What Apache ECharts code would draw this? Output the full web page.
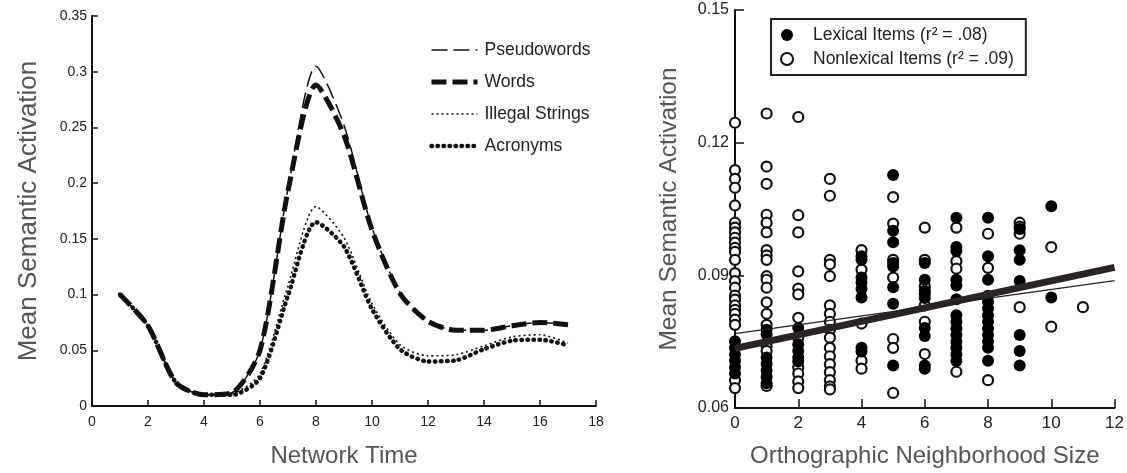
<!DOCTYPE html>
<html>
<head>
<meta charset="utf-8">
<script src="https://cdn.jsdelivr.net/npm/echarts@6/dist/echarts.min.js"></script>
<style>
  html, body { margin: 0; padding: 0; background: #fff; }
  #chart { width: 1127px; height: 473px; }
</style>
</head>
<body>
<div id="chart"></div>
<script>
// left panel: activation over network time
let time = [1, 2, 3, 4, 5, 6, 7, 8, 9, 10, 11, 12, 13, 14, 15, 16, 17];
let pseudowords = [0.1, 0.072, 0.021, 0.01, 0.012, 0.05, 0.195, 0.305, 0.252, 0.16, 0.102, 0.076, 0.068, 0.068, 0.072, 0.075, 0.073];
let words = [0.1, 0.072, 0.021, 0.01, 0.012, 0.05, 0.193, 0.288, 0.243, 0.158, 0.101, 0.076, 0.068, 0.068, 0.072, 0.075, 0.073];
let illegal = [0.1, 0.072, 0.021, 0.01, 0.011, 0.029, 0.108, 0.179, 0.151, 0.092, 0.055, 0.045, 0.046, 0.054, 0.062, 0.064, 0.0565];
let acronyms = [0.1, 0.072, 0.021, 0.01, 0.01, 0.025, 0.099, 0.165, 0.143, 0.087, 0.051, 0.04, 0.041, 0.051, 0.0586, 0.0595, 0.0545];

// right panel: activation by orthographic neighborhood size
let lexical = [
    [0, 0.0751], [0, 0.0736], [0, 0.0721], [0, 0.0707], [0, 0.0692], [0, 0.0678],
    [1, 0.0777], [1, 0.0766], [1, 0.0714], [1, 0.07], [1, 0.0685], [1, 0.067], [1, 0.0656],
    [2, 0.0781], [2, 0.0744], [2, 0.0729], [2, 0.0714], [2, 0.0705],
    [4, 0.0943], [4, 0.0935], [4, 0.0895], [4, 0.0884], [4, 0.0869], [4, 0.085], [4, 0.0736], [4, 0.0728],
    [5, 0.1127], [5, 0.1001], [5, 0.0975], [5, 0.0928], [5, 0.092], [5, 0.0873], [5, 0.0836], [5, 0.0696],
    [6, 0.0928], [6, 0.089], [6, 0.0865], [6, 0.0849], [6, 0.0781], [6, 0.0763], [6, 0.0696], [6, 0.0689],
    [7, 0.103], [7, 0.0964], [7, 0.0955], [7, 0.089], [7, 0.0877], [7, 0.0846], [7, 0.081], [7, 0.0795],
    [7, 0.078], [7, 0.0765], [7, 0.075], [7, 0.0736], [7, 0.0721], [7, 0.0706],
    [8, 0.103], [8, 0.0943], [8, 0.089], [8, 0.0854], [8, 0.084], [8, 0.0825], [8, 0.081], [8, 0.0795],
    [8, 0.078], [8, 0.0765], [8, 0.0751], [8, 0.0736], [8, 0.0707],
    [9, 0.1005], [9, 0.0957], [9, 0.0935], [9, 0.0887], [9, 0.0765], [9, 0.0729], [9, 0.0696],
    [10, 0.1056], [10, 0.085]
];
let nonlexical = [
    [0, 0.1245], [0, 0.1138], [0, 0.1118], [0, 0.1098], [0, 0.1058], [0, 0.1019], [0, 0.1008], [0, 0.0997],
    [0, 0.0985], [0, 0.0974], [0, 0.0962], [0, 0.0953], [0, 0.0935], [0, 0.0905], [0, 0.0887], [0, 0.0872],
    [0, 0.0854], [0, 0.0845], [0, 0.0832], [0, 0.0822], [0, 0.0813], [0, 0.08], [0, 0.0788], [0, 0.0663], [0, 0.0645],
    [1, 0.1266], [1, 0.1146], [1, 0.1107], [1, 0.1037], [1, 0.1019], [1, 0.0997], [1, 0.0957], [1, 0.0945],
    [1, 0.0935], [1, 0.0898], [1, 0.089], [1, 0.0872], [1, 0.0839], [1, 0.0813], [1, 0.0788], [1, 0.074], [1, 0.0729], [1, 0.065],
    [2, 0.1258], [2, 0.1036], [2, 0.0997], [2, 0.0909], [2, 0.087], [2, 0.0857], [2, 0.0804], [2, 0.0759],
    [2, 0.0692], [2, 0.0678], [2, 0.066], [2, 0.0645],
    [3, 0.1118], [3, 0.108], [3, 0.0935], [3, 0.0925], [3, 0.0898], [3, 0.0832], [3, 0.0813], [3, 0.0795],
    [3, 0.0777], [3, 0.0759], [3, 0.0736], [3, 0.0717], [3, 0.0699], [3, 0.0681], [3, 0.0663], [3, 0.0649], [3, 0.0642],
    [4, 0.0957], [4, 0.0913], [4, 0.0791], [4, 0.0707], [4, 0.0689],
    [5, 0.1077], [5, 0.1017], [5, 0.0935], [5, 0.0895], [5, 0.0756], [5, 0.0736], [5, 0.0634],
    [6, 0.1008], [6, 0.0935], [6, 0.0875], [6, 0.0858], [6, 0.0832], [6, 0.0795], [6, 0.0722],
    [7, 0.1008], [7, 0.0932], [7, 0.0915], [7, 0.0682],
    [8, 0.0994], [8, 0.0917], [8, 0.0663],
    [9, 0.1019], [9, 0.101], [9, 0.0994], [9, 0.0828],
    [10, 0.0964], [10, 0.0784],
    [11, 0.0828]
];
let fitThick = [[0, 0.0735], [12, 0.0918]];
let fitThin = [[0, 0.0768], [12, 0.0888]];

let leftTicks = ['0', '0.05', '0.1', '0.15', '0.2', '0.25', '0.3', '0.35'];
let rightTicks = ['0.06', '0.09', '0.12', '0.15'];

function pairs(ys) {
    return ys.map(function (v, i) { return [time[i], v]; });
}

let axisBase = {
    axisLine: { lineStyle: { color: '#111', width: 2 } },
    axisTick: { inside: true, length: 6, lineStyle: { color: '#111', width: 1.5 } },
    splitLine: { show: false },
    nameLocation: 'middle',
    nameTextStyle: { color: '#555', fontSize: 24, fontFamily: 'Liberation Sans, Arial' }
};

let MyChart = echarts.init(document.getElementById('chart'), null, { renderer: 'canvas' });

let option = {
    animation: false,
    backgroundColor: '#fff',
    textStyle: { fontFamily: 'Liberation Sans, Arial' },
    grid: [
        { left: 92, top: 16, width: 504, height: 398 },
        { left: 735, top: 10, width: 380, height: 405 }
    ],
    legend: [
        {
            data: ['Pseudowords', 'Words', 'Illegal Strings', 'Acronyms'],
            orient: 'vertical',
            left: 424,
            top: 36,
            itemWidth: 46,
            itemHeight: 12,
            itemGap: 14,
            itemStyle: { opacity: 0 },
            lineStyle: { width: 'inherit' },
            textStyle: { fontSize: 17.5, color: '#222', padding: [0, 0, 0, 2] }
        },
        {
            data: ['Lexical Items (r² = .08)', 'Nonlexical Items (r² = .09)'],
            orient: 'vertical',
            left: 771,
            top: 19,
            padding: [7, 12, 7, 9],
            itemGap: 6,
            itemWidth: 14,
            itemHeight: 12,
            borderColor: '#222',
            borderWidth: 2,
            borderRadius: 0,
            textStyle: { fontSize: 17.5, color: '#222', padding: [0, 0, 0, 14] }
        }
    ],
    xAxis: [
        Object.assign({}, axisBase, {
            gridIndex: 0, type: 'value', min: 0, max: 18, interval: 2,
            name: 'Network Time', nameGap: 38,
            axisLabel: { color: '#222', fontSize: 14, margin: 9 }
        }),
        Object.assign({}, axisBase, {
            gridIndex: 1, type: 'value', min: 0, max: 12, interval: 2,
            name: 'Orthographic Neighborhood Size', nameGap: 36,
            axisLabel: { color: '#222', fontSize: 17, margin: 7 },
            axisTick: { inside: true, length: 9, lineStyle: { color: '#111', width: 1.5 } }
        })
    ],
    yAxis: [
        Object.assign({}, axisBase, {
            gridIndex: 0, type: 'value', min: 0, max: 0.35, interval: 0.05,
            name: 'Mean Semantic Activation', nameGap: 50,
            nameTextStyle: { color: '#555', fontSize: 26, fontFamily: 'Liberation Sans, Arial' },
            axisLabel: {
                color: '#222', fontSize: 14, margin: 5,
                formatter: function (v, i) { return leftTicks[i]; }
            }
        }),
        Object.assign({}, axisBase, {
            gridIndex: 1, type: 'value', min: 0.06, max: 0.15, interval: 0.03,
            name: 'Mean Semantic Activation', nameGap: 53,
            nameTextStyle: { color: '#555', fontSize: 24.5, fontFamily: 'Liberation Sans, Arial' },
            axisLabel: {
                color: '#222', fontSize: 16, margin: 6,
                formatter: function (v, i) { return rightTicks[i]; }
            },
            axisTick: { inside: true, length: 9, lineStyle: { color: '#111', width: 1.5 } }
        })
    ],
    series: [
        {
            name: 'Illegal Strings', type: 'line', xAxisIndex: 0, yAxisIndex: 0,
            data: pairs(illegal), smooth: 0.25, symbol: 'none',
            lineStyle: { color: '#111', width: 1.6, type: [2, 3] }
        },
        {
            name: 'Acronyms', type: 'line', xAxisIndex: 0, yAxisIndex: 0,
            data: pairs(acronyms), smooth: 0.25, symbol: 'none',
            lineStyle: { color: '#111', width: 4.5, type: [0.5, 5.5], cap: 'round' }
        },
        {
            name: 'Words', type: 'line', xAxisIndex: 0, yAxisIndex: 0,
            data: pairs(words), smooth: 0.25, symbol: 'none',
            lineStyle: { color: '#111', width: 5, type: [15, 6] }
        },
        {
            name: 'Pseudowords', type: 'line', xAxisIndex: 0, yAxisIndex: 0,
            data: pairs(pseudowords), smooth: 0.25, symbol: 'none',
            lineStyle: { color: '#111', width: 1.5, type: [16, 6] }
        },
        {
            name: 'Nonlexical Items (r² = .09)', type: 'scatter', xAxisIndex: 1, yAxisIndex: 1,
            data: nonlexical, symbol: 'circle', symbolSize: 10,
            itemStyle: { color: '#fff', borderColor: '#111', borderWidth: 2.2, opacity: 1 }
        },
        {
            name: 'Lexical Items (r² = .08)', type: 'scatter', xAxisIndex: 1, yAxisIndex: 1,
            data: lexical, symbol: 'circle', symbolSize: 12,
            itemStyle: { color: '#000', borderWidth: 0, opacity: 1 }
        },
        {
            name: 'fit thick', type: 'line', xAxisIndex: 1, yAxisIndex: 1,
            data: fitThick, symbol: 'none',
            lineStyle: { color: '#2b2424', width: 7 }
        },
        {
            name: 'fit thin', type: 'line', xAxisIndex: 1, yAxisIndex: 1,
            data: fitThin, symbol: 'none',
            lineStyle: { color: '#222', width: 1.2 }
        }
    ]
};

MyChart.setOption(option);
</script>
</body>
</html>
